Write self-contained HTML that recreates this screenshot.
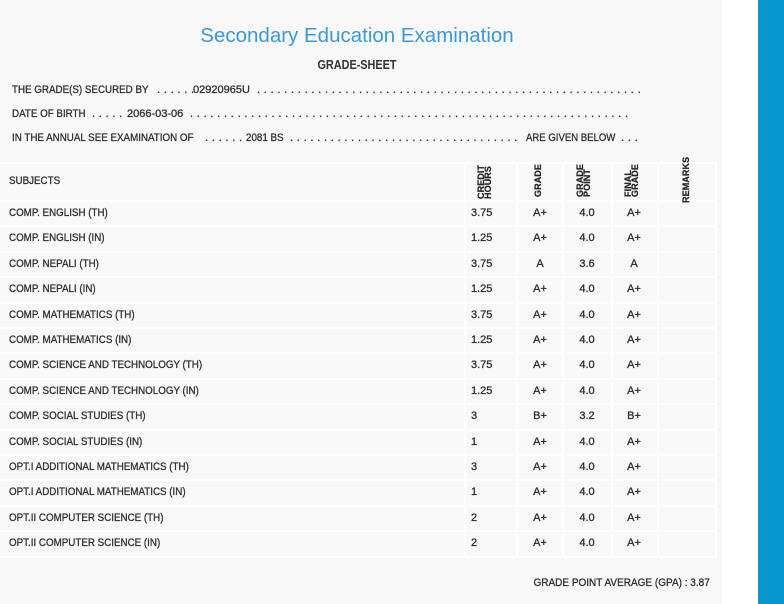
<!DOCTYPE html>
<html><head><meta charset="utf-8">
<style>
*{margin:0;padding:0;box-sizing:border-box}
html,body{width:784px;height:604px;overflow:hidden;background:#fff}
body{position:relative;font-family:"Liberation Sans",Arial,sans-serif;color:#2e2e2e}
#panel{position:absolute;left:0;top:0;width:722px;height:604px;background:#f8f8f8}
#blue{position:absolute;left:758px;top:0;width:26px;height:604px;background:#0896cf}
.t{position:absolute;white-space:pre;font-size:11px;line-height:14px;transform:scaleX(0.89);transform-origin:0 0;-webkit-text-stroke:0.3px #2e2e2e}
.n{position:absolute;white-space:pre;font-size:11px;line-height:14px;-webkit-text-stroke:0.3px #2e2e2e}
.d{position:absolute;white-space:pre;font-size:11px;line-height:14px;letter-spacing:3.74px;-webkit-text-stroke:0.3px #2e2e2e}
.title{position:absolute;left:0;width:714px;top:24px;text-align:center;font-size:20.5px;line-height:24px;color:#3a99da;white-space:nowrap}
.gs{position:absolute;left:357px;top:57px;font-size:13px;line-height:15px;font-weight:bold;color:#333;white-space:nowrap;transform:translateX(-50%) scaleX(0.835)}
.hl{position:absolute;left:0;width:716px;height:2px;background:#fff}
.vl{position:absolute;top:163px;height:394px;width:2px;background:#fff}
.row{position:absolute;left:0;width:716px;height:25.4px;font-size:11px;line-height:25.4px;-webkit-text-stroke:0.3px #2e2e2e}
.row span{position:absolute;white-space:pre;top:0}
.s{left:9px;transform:scaleX(0.89);transform-origin:0 0}
.c{left:471px}
.g{left:520px;width:40px;text-align:center}
.p{left:567px;width:40px;text-align:center}
.f{left:614px;width:40px;text-align:center}
.rot{position:absolute;transform-origin:0 0;transform:rotate(-90deg);font-size:9px;font-weight:bold;line-height:7.4px;white-space:pre;letter-spacing:0.1px;color:#222;-webkit-text-stroke:0.2px #222}
</style></head><body>
<div id="panel"></div>
<div id="blue"></div>

<div class="title">Secondary Education Examination</div>
<div class="gs">GRADE-SHEET</div>

<div class="t" style="left:12px;top:83px">THE GRADE(S) SECURED BY</div>
<div class="d" style="left:157px;top:83px">......</div>
<div class="n" style="left:193px;top:83px">02920965U</div>
<div class="d" style="left:257px;top:83px">.........................................................</div>

<div class="t" style="left:12px;top:107px">DATE OF BIRTH</div>
<div class="d" style="left:92px;top:107px">.....</div>
<div class="n" style="left:127px;top:107px">2066-03-06</div>
<div class="d" style="left:190px;top:107px">.................................................................</div>

<div class="t" style="left:12px;top:131px">IN THE ANNUAL SEE EXAMINATION OF</div>
<div class="d" style="left:205px;top:131px">......</div>
<div class="t" style="left:246px;top:131px">2081 BS</div>
<div class="d" style="left:290px;top:131px">..................................</div>
<div class="t" style="left:526px;top:131px;transform:scaleX(0.87)">ARE GIVEN BELOW</div>
<div class="d" style="left:621px;top:131px">...</div>

<!-- table lines -->
<div class="hl" style="top:162px"></div>
<div class="hl" style="top:200px"></div>
<div class="hl" style="top:225.4px"></div>
<div class="hl" style="top:250.8px"></div>
<div class="hl" style="top:276.2px"></div>
<div class="hl" style="top:301.6px"></div>
<div class="hl" style="top:327px"></div>
<div class="hl" style="top:352.4px"></div>
<div class="hl" style="top:377.8px"></div>
<div class="hl" style="top:403.2px"></div>
<div class="hl" style="top:428.6px"></div>
<div class="hl" style="top:454px"></div>
<div class="hl" style="top:479.4px"></div>
<div class="hl" style="top:504.8px"></div>
<div class="hl" style="top:530.2px"></div>
<div class="hl" style="top:555.6px"></div>
<div class="vl" style="left:464px"></div>
<div class="vl" style="left:516px"></div>
<div class="vl" style="left:562px"></div>
<div class="vl" style="left:611px"></div>
<div class="vl" style="left:657px"></div>
<div class="vl" style="left:715px"></div>

<!-- header -->
<div class="t" style="left:9px;top:174px">SUBJECTS</div>
<div class="rot" style="left:478px;top:199px">CREDIT
HOURS</div>
<div class="rot" style="left:535px;top:197px">GRADE</div>
<div class="rot" style="left:577px;top:197px">GRADE
POINT</div>
<div class="rot" style="left:625px;top:197px">FINAL
GRADE</div>
<div class="rot" style="left:683px;top:203px">REMARKS</div>

<!-- rows -->
<div class="row" style="top:201px"><span class="s">COMP. ENGLISH (TH)</span><span class="c">3.75</span><span class="g">A+</span><span class="p">4.0</span><span class="f">A+</span></div>
<div class="row" style="top:226.4px"><span class="s">COMP. ENGLISH (IN)</span><span class="c">1.25</span><span class="g">A+</span><span class="p">4.0</span><span class="f">A+</span></div>
<div class="row" style="top:251.8px"><span class="s">COMP. NEPALI (TH)</span><span class="c">3.75</span><span class="g">A</span><span class="p">3.6</span><span class="f">A</span></div>
<div class="row" style="top:277.2px"><span class="s">COMP. NEPALI (IN)</span><span class="c">1.25</span><span class="g">A+</span><span class="p">4.0</span><span class="f">A+</span></div>
<div class="row" style="top:302.6px"><span class="s">COMP. MATHEMATICS (TH)</span><span class="c">3.75</span><span class="g">A+</span><span class="p">4.0</span><span class="f">A+</span></div>
<div class="row" style="top:328px"><span class="s">COMP. MATHEMATICS (IN)</span><span class="c">1.25</span><span class="g">A+</span><span class="p">4.0</span><span class="f">A+</span></div>
<div class="row" style="top:353.4px"><span class="s">COMP. SCIENCE AND TECHNOLOGY (TH)</span><span class="c">3.75</span><span class="g">A+</span><span class="p">4.0</span><span class="f">A+</span></div>
<div class="row" style="top:378.8px"><span class="s">COMP. SCIENCE AND TECHNOLOGY (IN)</span><span class="c">1.25</span><span class="g">A+</span><span class="p">4.0</span><span class="f">A+</span></div>
<div class="row" style="top:404.2px"><span class="s">COMP. SOCIAL STUDIES (TH)</span><span class="c">3</span><span class="g">B+</span><span class="p">3.2</span><span class="f">B+</span></div>
<div class="row" style="top:429.6px"><span class="s">COMP. SOCIAL STUDIES (IN)</span><span class="c">1</span><span class="g">A+</span><span class="p">4.0</span><span class="f">A+</span></div>
<div class="row" style="top:455px"><span class="s">OPT.I ADDITIONAL MATHEMATICS (TH)</span><span class="c">3</span><span class="g">A+</span><span class="p">4.0</span><span class="f">A+</span></div>
<div class="row" style="top:480.4px"><span class="s">OPT.I ADDITIONAL MATHEMATICS (IN)</span><span class="c">1</span><span class="g">A+</span><span class="p">4.0</span><span class="f">A+</span></div>
<div class="row" style="top:505.8px"><span class="s">OPT.II COMPUTER SCIENCE (TH)</span><span class="c">2</span><span class="g">A+</span><span class="p">4.0</span><span class="f">A+</span></div>
<div class="row" style="top:531.2px"><span class="s">OPT.II COMPUTER SCIENCE (IN)</span><span class="c">2</span><span class="g">A+</span><span class="p">4.0</span><span class="f">A+</span></div>

<div class="n" style="right:74px;top:576px;transform:scaleX(0.91);transform-origin:100% 0">GRADE POINT AVERAGE (GPA) : 3.87</div>
</body></html>
